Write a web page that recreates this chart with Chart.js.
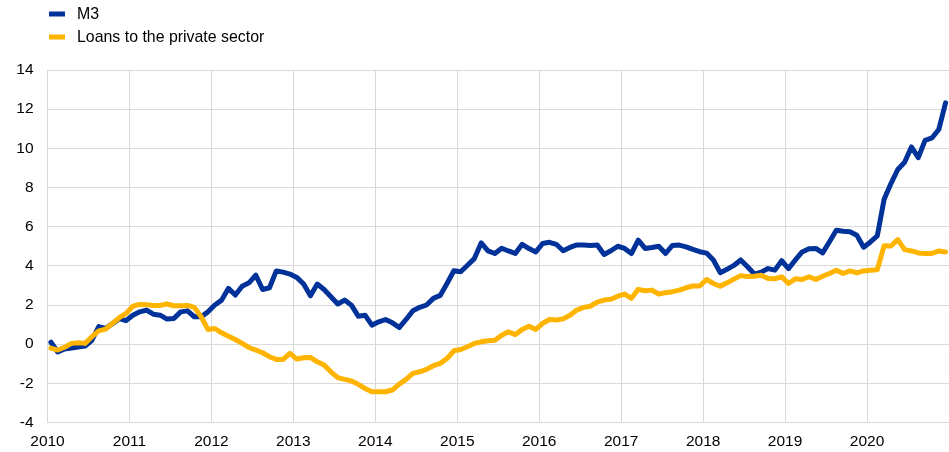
<!DOCTYPE html>
<html>
<head>
<meta charset="utf-8">
<script src="https://cdn.jsdelivr.net/npm/chart.js@4"></script>
<style>
  body { margin: 0; background: #fff; }
  #wrap { width: 949px; height: 452px; position: relative; }
</style>
</head>
<body>
<div id="wrap"><canvas id="moneyChart"></canvas></div>
<script>
// Monthly data, Jan 2010 - Dec 2020 (annual % changes)
const startYear = 2010;
const yearLabels = ['2010', '2011', '2012', '2013', '2014', '2015', '2016', '2017', '2018', '2019', '2020'];
const seriesNames = ['M3', 'Loans to the private sector'];

const m3 = [
    0.1, -0.4, -0.25, -0.2, -0.15, -0.1, 0.2, 0.9, 0.8, 1.05, 1.3, 1.2,
    1.48, 1.65, 1.74, 1.53, 1.48, 1.28, 1.31, 1.65, 1.7, 1.4, 1.4, 1.65,
    2.0, 2.25, 2.85, 2.51, 2.96, 3.13, 3.52, 2.79, 2.88, 3.74, 3.68, 3.58,
    3.41, 3.07, 2.47, 3.07, 2.79, 2.42, 2.05, 2.25, 1.99, 1.43, 1.48, 0.97,
    1.14, 1.26, 1.09, 0.85, 1.26, 1.71, 1.88, 2.0, 2.34, 2.49, 3.1, 3.75,
    3.7, 4.03, 4.37, 5.17, 4.76, 4.63, 4.9, 4.76, 4.63, 5.1, 4.88, 4.71,
    5.14, 5.2, 5.1, 4.77, 4.94, 5.07, 5.06, 5.04, 5.06, 4.58, 4.77, 5.0,
    4.89, 4.63, 5.31, 4.89, 4.94, 5.0, 4.63, 5.04, 5.06, 4.97, 4.84, 4.72,
    4.65, 4.3, 3.65, 3.82, 4.02, 4.3, 3.95, 3.58, 3.68, 3.86, 3.78, 4.26,
    3.86, 4.3, 4.71, 4.87, 4.89, 4.66, 5.23, 5.82, 5.77, 5.74, 5.56, 4.95,
    5.22, 5.53, 7.4, 8.2, 8.92, 9.29, 10.07, 9.53, 10.41, 10.53, 10.96, 12.32
];

const loans = [
    -0.2, -0.3, -0.16, 0.04, 0.07, 0.04, 0.38, 0.68, 0.77, 1.06, 1.35, 1.57,
    1.94, 2.03, 2.01, 1.98, 1.98, 2.05, 1.96, 1.96, 1.98, 1.88, 1.4, 0.75,
    0.8, 0.58, 0.41, 0.24, 0.04, -0.17, -0.3, -0.44, -0.64, -0.78, -0.78, -0.47,
    -0.76, -0.69, -0.68, -0.9, -1.07, -1.41, -1.71, -1.8, -1.88, -2.05, -2.26, -2.43,
    -2.43, -2.43, -2.34, -2.04, -1.8, -1.49, -1.41, -1.29, -1.1, -0.98, -0.73, -0.34,
    -0.27, -0.13, 0.04, 0.12, 0.17, 0.2, 0.46, 0.63, 0.49, 0.75, 0.92, 0.75,
    1.06, 1.26, 1.23, 1.29, 1.48, 1.74, 1.88, 1.94, 2.15, 2.25, 2.29, 2.45,
    2.56, 2.34, 2.8, 2.73, 2.76, 2.56, 2.63, 2.68, 2.76, 2.88, 2.97, 2.97,
    3.3, 3.1, 2.96, 3.13, 3.32, 3.5, 3.45, 3.47, 3.52, 3.35, 3.34, 3.44,
    3.1, 3.34, 3.3, 3.44, 3.3, 3.47, 3.61, 3.78, 3.61, 3.74, 3.64, 3.74,
    3.78, 3.8, 5.03, 5.01, 5.34, 4.83, 4.76, 4.66, 4.63, 4.63, 4.76, 4.71
];

const yMin = -4;
const yMax = 14;
const yStep = 2;

const blue = '#003299';
const yellow = '#ffb400';
const gridColor = '#d9d9d9';
const fontFamily = '"Liberation Sans", Arial, sans-serif';

// points sit in the middle of their month
function toPoints(values) {
    return values.map((v, i) => ({ x: i + 0.5, y: v }));
}

// legend stacked top-left, drawn on the canvas
const stackedLegend = {
    id: 'stackedLegend',
    afterDraw(chart) {
        const ctx = chart.ctx;
        ctx.save();
        ctx.font = '15.9px ' + fontFamily;
        ctx.textBaseline = 'middle';
        chart.data.datasets.forEach((ds, i) => {
            const y = 14 + i * 23;
            ctx.fillStyle = ds.borderColor;
            ctx.fillRect(49, y - 2.5, 16, 5);
            ctx.fillStyle = '#000';
            ctx.fillText(ds.label, 77, y + 0.5);
        });
        ctx.restore();
    }
};

const ctx = document.getElementById('moneyChart').getContext('2d');
const moneyChart = new Chart(ctx, {
    type: 'line',
    data: {
        datasets: [
            {
                label: seriesNames[0],
                data: toPoints(m3),
                borderColor: blue,
                backgroundColor: blue,
                borderWidth: 5,
                pointRadius: 0,
                tension: 0,
                borderJoinStyle: 'round',
                borderCapStyle: 'round',
                order: 1
            },
            {
                label: seriesNames[1],
                data: toPoints(loans),
                borderColor: yellow,
                backgroundColor: yellow,
                borderWidth: 5,
                pointRadius: 0,
                tension: 0,
                borderJoinStyle: 'round',
                borderCapStyle: 'round',
                order: 0
            }
        ]
    },
    options: {
        responsive: true,
        maintainAspectRatio: false,
        animation: false,
        layout: {
            padding: { top: 70, right: 0, bottom: 0, left: 0 }
        },
        plugins: {
            legend: { display: false },
            tooltip: { enabled: false }
        },
        scales: {
            x: {
                type: 'linear',
                min: 0,
                max: yearLabels.length * 12,
                afterBuildTicks: (scale) => {
                    scale.ticks = yearLabels.map((lab, i) => ({ value: i * 12 }));
                },
                afterFit: (scale) => { scale.height = 29.5; },
                ticks: {
                    autoSkip: false,
                    maxRotation: 0,
                    padding: 10,
                    color: '#000',
                    font: { family: fontFamily, size: 15.5 },
                    callback: (value) => yearLabels[Math.round(value / 12)] || ''
                },
                grid: { color: gridColor, lineWidth: 1, drawTicks: false },
                border: { display: false }
            },
            y: {
                min: yMin,
                max: yMax,
                afterFit: (scale) => { scale.width = 47.5; },
                ticks: {
                    stepSize: yStep,
                    padding: 14,
                    color: '#000',
                    font: { family: fontFamily, size: 15.5 }
                },
                grid: { color: gridColor, lineWidth: 1, drawTicks: false },
                border: { display: false }
            }
        }
    },
    plugins: [stackedLegend]
});
</script>
</body>
</html>
